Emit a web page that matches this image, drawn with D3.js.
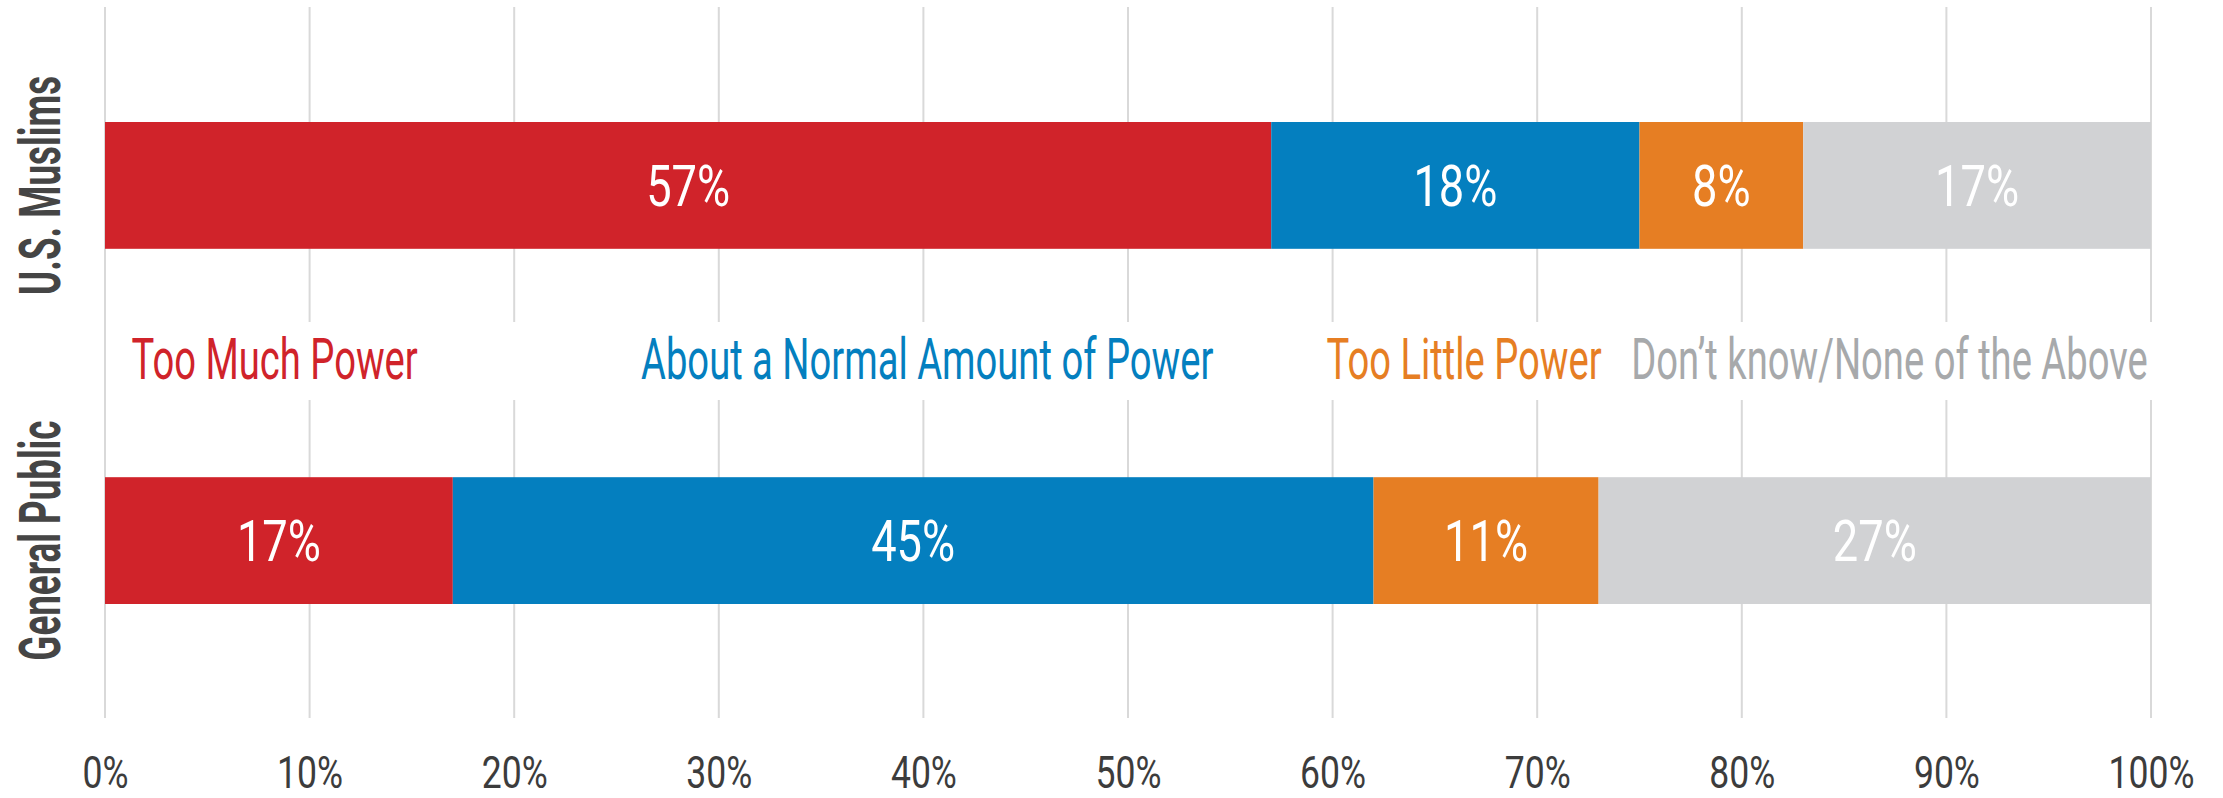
<!DOCTYPE html>
<html>
<head>
<meta charset="utf-8">
<script src="https://cdn.jsdelivr.net/npm/d3@7"></script>
<style>
  html, body { margin: 0; padding: 0; background: #ffffff; }
  svg { display: block; }
</style>
</head>
<body>
<svg id="chart" width="2223" height="798"></svg>
<script>
// ---------- data ----------
const groups = ["U.S. Muslims", "General Public"];
const seriesNames = ["Too Much Power", "About a Normal Amount of Power", "Too Little Power", "Don\u2019t know/None of the Above"];
const usMuslims = [57, 18, 8, 17];
const generalPublic = [17, 45, 11, 27];
const tickValues = [0, 10, 20, 30, 40, 50, 60, 70, 80, 90, 100];
const tickLabels = ["0%", "10%", "20%", "30%", "40%", "50%", "60%", "70%", "80%", "90%", "100%"];
const colors = ["#D0232A", "#047FBF", "#E67E23", "#D1D2D4"];
const legendColors = ["#D0232A", "#047FBF", "#E67E23", "#A7A9AB"];
const legendAt = [1.3, 26.2, 59.7, 74.6]; // legend start, in axis percent

// ---------- layout ----------
const W = 2223, H = 798;
const svg = d3.select("#chart");
const FONT = "Roboto, 'Liberation Sans', Arial, sans-serif";

const x = d3.scaleLinear().domain([0, 100]).range([105, 2151]);
const y = d3.scaleBand().domain(groups).range([122, 604]).paddingInner(0.643).paddingOuter(0);

// helper: horizontal condensation factor so that a sample string reaches a target width
function condense(sample, size, weight, target) {
  const t = svg.append("text").attr("font-family", FONT).attr("font-size", size)
    .attr("font-weight", weight).text(sample);
  const w = t.node().getComputedTextLength();
  t.remove();
  return target / w;
}

const rows = [usMuslims, generalPublic].map((vals, gi) => {
  let acc = 0;
  return vals.map((v, si) => {
    const d = { group: groups[gi], series: si, value: v, x0: acc, x1: acc + v };
    acc += v;
    return d;
  });
});

// gridlines
const gridTop = 7, gridBottom = 718;
svg.append("g").selectAll("line")
  .data(tickValues)
  .join("line")
  .attr("x1", d => x(d)).attr("x2", d => x(d))
  .attr("y1", gridTop).attr("y2", gridBottom)
  .attr("stroke", "#D9D9D9")
  .attr("stroke-width", 2);

// white band behind the legend (interrupts gridlines except the 0% axis line)
svg.append("rect")
  .attr("x", x(0) + 2).attr("y", 322)
  .attr("width", W - x(0) - 2).attr("height", 78)
  .attr("fill", "#ffffff");

// bars
const barSize = 58;
const barK = condense("57%", barSize, 400, 84);
const barG = svg.append("g");
rows.forEach(row => {
  barG.append("g").selectAll("rect")
    .data(row)
    .join("rect")
    .attr("x", d => x(d.x0))
    .attr("width", d => x(d.x1) - x(d.x0))
    .attr("y", d => y(d.group))
    .attr("height", y.bandwidth())
    .attr("fill", d => colors[d.series]);

  barG.append("g").selectAll("text")
    .data(row)
    .join("text")
    .attr("transform", d => `translate(${(x(d.x0) + x(d.x1)) / 2},${y(d.group) + y.bandwidth() / 2 + 20.5}) scale(${barK},1)`)
    .attr("text-anchor", "middle")
    .attr("font-family", FONT)
    .attr("font-size", barSize)
    .attr("fill", "#ffffff")
    .text(d => d.value + "%");
});

// legend
const legSize = 57;
const legK = condense(seriesNames.join(""), legSize, 400, 1650);
const legendG = svg.append("g");
seriesNames.forEach((name, i) => {
  legendG.append("text")
    .attr("transform", `translate(${x(legendAt[i])},379) scale(${legK},1)`)
    .attr("font-family", FONT)
    .attr("font-size", legSize)
    .attr("fill", legendColors[i])
    .text(name);
});

// x axis labels
const tickSize = 44;
const tickK = condense("100%", tickSize, 400, 86);
const axis = d3.axisBottom(x)
  .tickValues(tickValues)
  .tickFormat((d, i) => tickLabels[i])
  .tickSize(0)
  .tickPadding(0);
const axG = svg.append("g").attr("transform", "translate(0,788)").call(axis);
axG.select(".domain").remove();
axG.selectAll("text")
  .attr("y", 0).attr("dy", 0)
  .attr("font-family", FONT)
  .attr("font-size", tickSize)
  .attr("font-weight", 400)
  .attr("fill", "#3C3C3C")
  .attr("transform", `scale(${tickK},1)`);

// y category labels
const ySize = 57;
const yK = condense("U.S. Muslims", ySize, 700, 219);
svg.append("g").selectAll("text")
  .data(groups)
  .join("text")
  .attr("transform", d => `translate(60,${y(d) + y.bandwidth() / 2}) rotate(-90) scale(${yK},1)`)
  .attr("text-anchor", "middle")
  .attr("font-family", FONT)
  .attr("font-weight", 700)
  .attr("font-size", ySize)
  .attr("fill", "#454545")
  .text(d => d);
</script>
</body>
</html>
